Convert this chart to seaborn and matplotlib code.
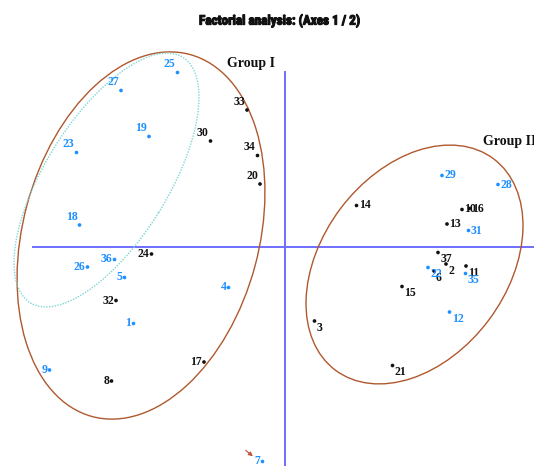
import matplotlib
matplotlib.use("Agg")
import matplotlib.pyplot as plt
from matplotlib.patches import Ellipse
from matplotlib import patheffects
import seaborn as sns
import pandas as pd

# Factor scores of the observations on axes 1 and 2
labels = ["1", "4", "5", "7", "8", "9", "17", "18", "19", "20", "23", "24", "25",
          "26", "27", "30", "32", "33", "34", "36",
          "2", "3", "6", "10", "11", "12", "13", "14", "15", "16", "21", "22",
          "28", "29", "31", "35", "37"]
axis1 = [-3.03, -1.13, -3.21, -0.45, -3.47, -4.71, -1.62, -4.11, -2.72, -0.50,
         -4.17, -2.67, -2.15, -3.95, -3.28, -1.49, -3.38, -0.76, -0.55, -3.41,
         3.22, 0.59, 2.98, 3.54, 3.62, 3.29, 3.24, 1.43, 2.34, 3.69, 2.15, 2.86,
         4.26, 3.14, 3.67, 3.61, 3.06]
axis2 = [-1.54, -0.82, -0.62, -4.30, -2.69, -2.47, -2.31, 0.43, 2.20, 1.25,
         1.88, -0.15, 3.48, -0.41, 3.12, 2.11, -1.08, 2.73, 1.82, -0.26,
         -0.35, -1.49, -0.49, 0.74, -0.39, -1.31, 0.45, 0.82, -0.80, 0.76, -2.38, -0.42,
         1.24, 1.42, 0.32, -0.54, -0.12]
kind = ["active", "active", "active", "active", "other", "active", "other", "active",
        "active", "other", "active", "other", "active", "active", "active", "other",
        "other", "other", "other", "active",
        "other", "other", "other", "other", "other", "active", "other", "other",
        "other", "other", "other", "active", "active", "active", "active", "active",
        "other"]

# Group envelopes: centre x, centre y, width, height, angle
group_names = ["Group I", "Group II"]
env_cx = [-2.88, 2.59]
env_cy = [0.22, -0.36]
env_w = [7.50, 5.28]
env_h = [4.72, 3.71]
env_angle = [74.9, 53.2]
# Sub-cluster inside group I
sub_cx, sub_cy, sub_w, sub_h, sub_angle = -3.57, 1.33, 5.78, 2.46, 58.1

df = pd.DataFrame({"label": labels, "F1": axis1, "F2": axis2, "kind": kind})

palette = {"active": "#1e90ff", "other": "#111111"}
brown = "#b0582e"
axis_blue = "#6f6fff"

fig = plt.figure(figsize=(5.34, 4.66), dpi=100)
ax = fig.add_axes([0, 0, 1, 1])
ax.set_xlim(-5.70, 4.98)
ax.set_ylim(-4.39, 4.93)
ax.axis("off")

# Factor axes
ax.plot([-5.04, 4.98], [0, 0], color=axis_blue, lw=1.4, zorder=1)
ax.plot([0, 0], [3.49, -4.39], color=axis_blue, lw=1.4, zorder=1)

sns.scatterplot(data=df, x="F1", y="F2", hue="kind", palette=palette,
                s=7, linewidth=0, legend=False, ax=ax, zorder=3)

label_font = dict(family="Liberation Serif", weight="bold", size=8.5)
for lab, x, y, k in zip(labels, axis1, axis2, kind):
    col = palette[k]
    if x < 0:
        dx, ha = -1.5, "right"
        dy = 6 if y > 0 else 0
    else:
        dx, ha = 1.5, "left"
        dy = -5 if y < 0 else 0
    ax.annotate(lab, (x, y), xytext=(dx, dy), textcoords="offset points",
                ha=ha, va="center", color=col, zorder=4, **label_font)

for cx, cy, w, h, a in zip(env_cx, env_cy, env_w, env_h, env_angle):
    ax.add_patch(Ellipse((cx, cy), w, h, angle=a, fill=False,
                         edgecolor=brown, lw=1.0, zorder=2))
ax.add_patch(Ellipse((sub_cx, sub_cy), sub_w, sub_h, angle=sub_angle, fill=False,
                     edgecolor="#7fd6d6", lw=1.0, ls=(0, (1, 1)), zorder=2))

ax.text(-1.16, 3.67, group_names[0], ha="left", va="center",
        family="Liberation Serif", weight="bold", size=10, color="#111111")
ax.text(3.95, 2.11, group_names[1], ha="left", va="center",
        family="Liberation Serif", weight="bold", size=10, color="#111111")

# Arrow pointing to observation 7
ax.annotate("", xy=(-0.60, -4.23), xytext=(-0.83, -4.04),
            arrowprops=dict(arrowstyle="-|>", color="#c0503a", lw=0.8,
                            mutation_scale=6))

title = fig.text(0.524, 0.955, "Factorial analysis: (Axes 1 / 2)",
                 ha="center", va="center",
                 family=["DejaVu Sans Condensed", "Roboto Condensed",
                         "Liberation Sans Narrow", "Liberation Sans"],
                 stretch="condensed", weight="bold", size=9.5, color="#111111")
title.set_path_effects([patheffects.withStroke(linewidth=0.8, foreground="#111111")])

fig.savefig("out.png", dpi=100, facecolor="white")
